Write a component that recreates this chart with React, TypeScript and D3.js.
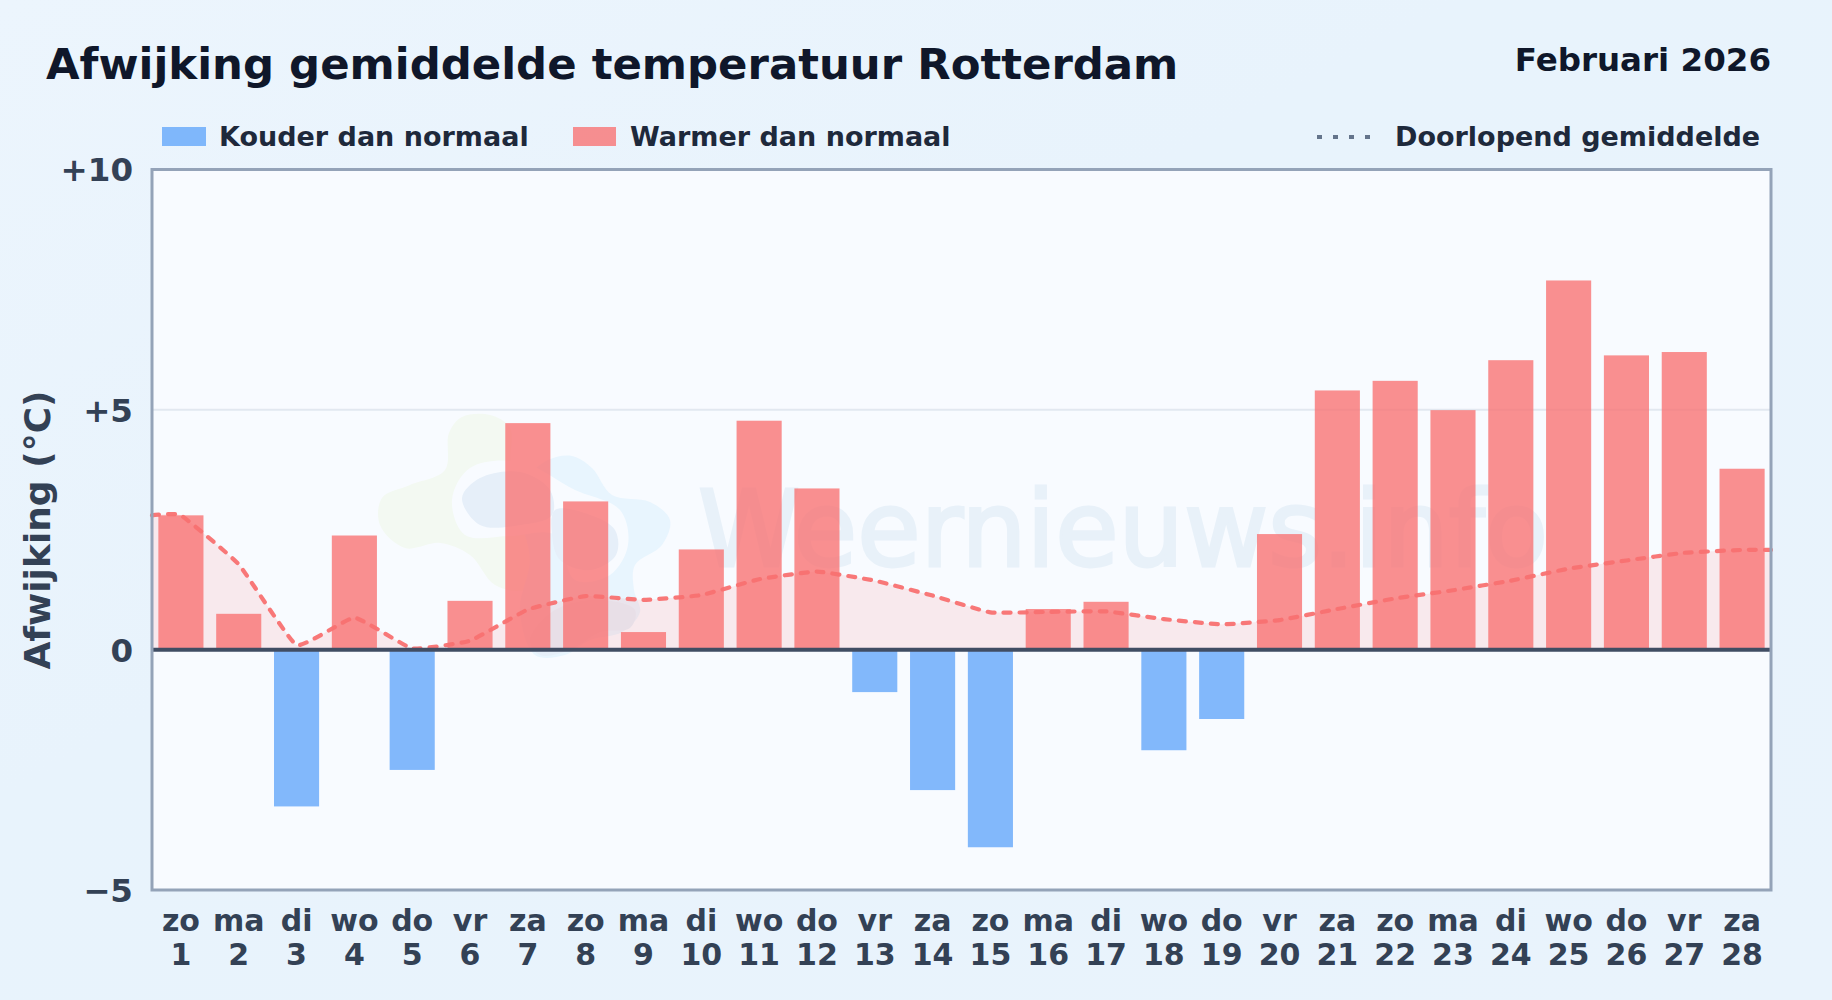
import { useEffect, useRef } from "react";
import * as d3 from "d3";

const WEEKDAYS = ["zo", "ma", "di", "wo", "do", "vr", "za", "zo", "ma", "di", "wo", "do", "vr", "za", "zo", "ma", "di", "wo", "do", "vr", "za", "zo", "ma", "di", "wo", "do", "vr", "za"];
const DAYS = [1, 2, 3, 4, 5, 6, 7, 8, 9, 10, 11, 12, 13, 14, 15, 16, 17, 18, 19, 20, 21, 22, 23, 24, 25, 26, 27, 28];
const DEVIATION = [2.8, 0.75, -3.26, 2.38, -2.5, 1.02, 4.72, 3.09, 0.37, 2.09, 4.77, 3.36, -0.88, -2.92, -4.11, 0.85, 1.0, -2.09, -1.44, 2.41, 5.4, 5.6, 4.99, 6.03, 7.69, 6.13, 6.2, 3.77];
const RUNNING_MEAN = [2.8, 1.78, 0.1, 0.67, 0.03, 0.19, 0.84, 1.12, 1.04, 1.14, 1.47, 1.63, 1.44, 1.13, 0.78, 0.79, 0.8, 0.64, 0.53, 0.62, 0.85, 1.07, 1.24, 1.44, 1.69, 1.86, 2.02, 2.08];
const Y_TICKS = [10, 5, 0, -5];

const WIDTH = 1832;
const HEIGHT = 1000;
const FONT = "'DejaVu Sans', sans-serif";
const plot = { left: 152, right: 1771, top: 169.5, bottom: 890 };

const COLD = "#60a5fa";
const WARM = "#f87171";
const INK = "#334155";

// watermark logo outlines, page pixels
const GREEN_BLOB: [number, number][] = [[449, 433], [462, 417], [490, 415], [510, 428], [512, 470], [540, 500], [560, 560], [525, 590], [495, 585], [470, 555], [440, 543], [405, 548], [380, 525], [382, 498], [410, 485], [445, 470]];
const BLUE_BLOB: [number, number][] = [[528, 478], [548, 460], [572, 456], [592, 468], [612, 495], [650, 502], [670, 520], [662, 545], [635, 565], [634, 590], [640, 612], [622, 632], [590, 640], [565, 655], [535, 655], [520, 610], [530, 560], [520, 510]];
const RING: [number, number][] = [[452, 500], [470, 468], [520, 462], [575, 490], [620, 510], [628, 545], [610, 575], [575, 580], [555, 535], [510, 536], [465, 535]];
const INNER_LEFT: [number, number][] = [[462, 498], [480, 478], [520, 472], [550, 490], [552, 515], [520, 525], [480, 525]];
const INNER_RIGHT: [number, number][] = [[555, 510], [590, 515], [615, 530], [616, 555], [590, 570], [560, 560], [552, 535]];
const INNER_LOW: [number, number][] = [[555, 610], [600, 600], [635, 610], [630, 628], [600, 632], [570, 650], [540, 655], [530, 640]];

const App = () => {
  const svgRef = useRef<SVGSVGElement>(null);

  useEffect(() => {
    const svg = d3.select(svgRef.current);
    svg.selectAll("*").remove();

    const x = d3.scaleBand<number>().domain(DAYS).range([plot.left, plot.right]).paddingInner(0.22).paddingOuter(0.11);
    const xLine = d3.scaleLinear().domain([0.5, 28.5]).range([plot.left, plot.right]);
    const y = d3.scaleLinear().domain([-5, 10]).range([plot.bottom, plot.top]);

    // page background
    const defs = svg.append("defs");
    const grad = defs.append("linearGradient").attr("id", "bg").attr("x1", 0).attr("y1", 0).attr("x2", 1).attr("y2", 1);
    grad.append("stop").attr("offset", "0%").attr("stop-color", "#ecf5fd");
    grad.append("stop").attr("offset", "40%").attr("stop-color", "#e8f3fc");
    grad.append("stop").attr("offset", "100%").attr("stop-color", "#e9f3fc");
    svg.append("rect").attr("width", WIDTH).attr("height", HEIGHT).attr("fill", "url(#bg)");

    // plot background
    svg
      .append("rect")
      .attr("x", plot.left)
      .attr("y", plot.top)
      .attr("width", plot.right - plot.left)
      .attr("height", plot.bottom - plot.top)
      .attr("fill", "#f8fbff");

    // watermark
    const blob = d3.line().curve(d3.curveCatmullRomClosed.alpha(0.5));
    const wm = svg.append("g");
    wm.append("path").attr("d", blob(GREEN_BLOB)).attr("fill", "#f3f9f2");
    wm.append("path").attr("d", blob(BLUE_BLOB)).attr("fill", "#e8f5fe");
    wm.append("path").attr("d", blob(RING)).attr("fill", "#f8fbff");
    wm.append("path").attr("d", blob(INNER_LEFT)).attr("fill", "#e6eff9");
    wm.append("path").attr("d", blob(INNER_RIGHT)).attr("fill", "#e6eff9");
    wm.append("path").attr("d", blob(INNER_LOW)).attr("fill", "#e6eff9");
    wm.append("text")
      .attr("x", 698)
      .attr("y", 566)
      .attr("font-family", FONT)
      .attr("font-size", 105)
      .attr("textLength", 850)
      .attr("lengthAdjust", "spacingAndGlyphs")
      .attr("fill", "#e8f1f9")
      .attr("stroke", "#e8f1f9")
      .attr("stroke-width", 3)
      .text("Weernieuws.info");

    // grid line at +5
    svg
      .append("line")
      .attr("x1", plot.left)
      .attr("x2", plot.right)
      .attr("y1", y(5))
      .attr("y2", y(5))
      .attr("stroke", "#e2e8f0")
      .attr("stroke-width", 2);

    // running mean
    const lineDays = [0.5, ...DAYS, 28.5];
    const lineValues = [RUNNING_MEAN[0], ...RUNNING_MEAN, RUNNING_MEAN[RUNNING_MEAN.length - 1]];
    const curve = d3.curveCardinal.tension(0.65);
    const area = d3
      .area<number>()
      .x((_, i) => xLine(lineDays[i]))
      .y0(y(0))
      .y1((d) => y(d))
      .curve(curve);
    const line = d3
      .line<number>()
      .x((_, i) => xLine(lineDays[i]))
      .y((d) => y(d))
      .curve(curve);

    svg.append("path").attr("d", area(lineValues)).attr("fill", WARM).attr("fill-opacity", 0.13);

    // bars
    svg
      .append("g")
      .selectAll("rect")
      .data(DEVIATION)
      .join("rect")
      .attr("x", (_, i) => x(DAYS[i]))
      .attr("width", x.bandwidth())
      .attr("y", (d) => y(Math.max(d, 0)))
      .attr("height", (d) => Math.abs(y(d) - y(0)))
      .attr("fill", (d) => (d < 0 ? COLD : WARM))
      .attr("fill-opacity", 0.78);

    svg
      .append("path")
      .attr("d", line(lineValues))
      .attr("fill", "none")
      .attr("stroke", WARM)
      .attr("stroke-opacity", 0.95)
      .attr("stroke-width", 4.2)
      .attr("stroke-linecap", "round")
      .attr("stroke-dasharray", "7 9");

    // zero line
    svg
      .append("line")
      .attr("x1", plot.left)
      .attr("x2", plot.right)
      .attr("y1", y(0))
      .attr("y2", y(0))
      .attr("stroke", "#404d63")
      .attr("stroke-width", 4);

    // frame
    svg
      .append("rect")
      .attr("x", plot.left)
      .attr("y", plot.top)
      .attr("width", plot.right - plot.left)
      .attr("height", plot.bottom - plot.top)
      .attr("fill", "none")
      .attr("stroke", "#94a3b8")
      .attr("stroke-width", 3);

    // axes
    const yAxis = d3
      .axisLeft(y)
      .tickValues(Y_TICKS)
      .tickSize(0)
      .tickPadding(19)
      .tickFormat((d) => (+d > 0 ? `+${d}` : +d < 0 ? `\u2212${Math.abs(+d)}` : "0"));
    const yG = svg.append("g").attr("transform", `translate(${plot.left},1)`).call(yAxis);
    yG.select(".domain").remove();
    yG.selectAll("text")
      .attr("font-family", FONT)
      .attr("font-size", 32.5)
      .attr("font-weight", 700)
      .attr("fill", INK);

    const xAxis = d3.axisBottom(x).tickSize(0).tickFormat(() => "");
    const xG = svg.append("g").attr("transform", `translate(0,${plot.bottom})`).call(xAxis);
    xG.select(".domain").remove();
    xG.selectAll(".tick text").each(function (d) {
      const t = d3.select(this).attr("y", 0).attr("dy", null);
      t.attr("font-family", FONT).attr("font-size", 30).attr("font-weight", 700).attr("fill", INK);
      t.append("tspan").attr("x", 0).attr("y", 41).text(WEEKDAYS[(d as number) - 1]);
      t.append("tspan").attr("x", 0).attr("y", 75).text(String(d));
    });

    svg
      .append("text")
      .attr("transform", `translate(50,530) rotate(-90)`)
      .attr("text-anchor", "middle")
      .attr("font-family", FONT)
      .attr("font-size", 36)
      .attr("font-weight", 700)
      .attr("fill", INK)
      .text("Afwijking (°C)");

    // titles
    svg
      .append("text")
      .attr("x", 46)
      .attr("y", 79)
      .attr("font-family", FONT)
      .attr("font-size", 43.4)
      .attr("font-weight", 700)
      .attr("fill", "#0f172a")
      .text("Afwijking gemiddelde temperatuur Rotterdam");
    svg
      .append("text")
      .attr("x", 1771)
      .attr("y", 71)
      .attr("text-anchor", "end")
      .attr("font-family", FONT)
      .attr("font-size", 32.5)
      .attr("font-weight", 700)
      .attr("fill", "#0f172a")
      .text("Februari 2026");

    // legend
    const legendText = (lx: number, label: string) =>
      svg
        .append("text")
        .attr("x", lx)
        .attr("y", 146)
        .attr("font-family", FONT)
        .attr("font-size", 27)
        .attr("font-weight", 700)
        .attr("fill", "#1e293b")
        .text(label);
    svg.append("rect").attr("x", 162).attr("y", 127).attr("width", 44).attr("height", 19).attr("fill", COLD).attr("fill-opacity", 0.78);
    legendText(219, "Kouder dan normaal");
    svg.append("rect").attr("x", 573).attr("y", 127).attr("width", 43).attr("height", 19).attr("fill", WARM).attr("fill-opacity", 0.78);
    legendText(630, "Warmer dan normaal");
    svg
      .append("line")
      .attr("x1", 1317)
      .attr("x2", 1377)
      .attr("y1", 137)
      .attr("y2", 137)
      .attr("stroke", "#64748b")
      .attr("stroke-width", 4)
      .attr("stroke-dasharray", "5 11");
    legendText(1395, "Doorlopend gemiddelde");
  }, []);

  return (
    <svg
      ref={svgRef}
      width={WIDTH}
      height={HEIGHT}
      style={{ position: "absolute", left: 0, top: 0, display: "block" }}
    ></svg>
  );
};

export default App;
